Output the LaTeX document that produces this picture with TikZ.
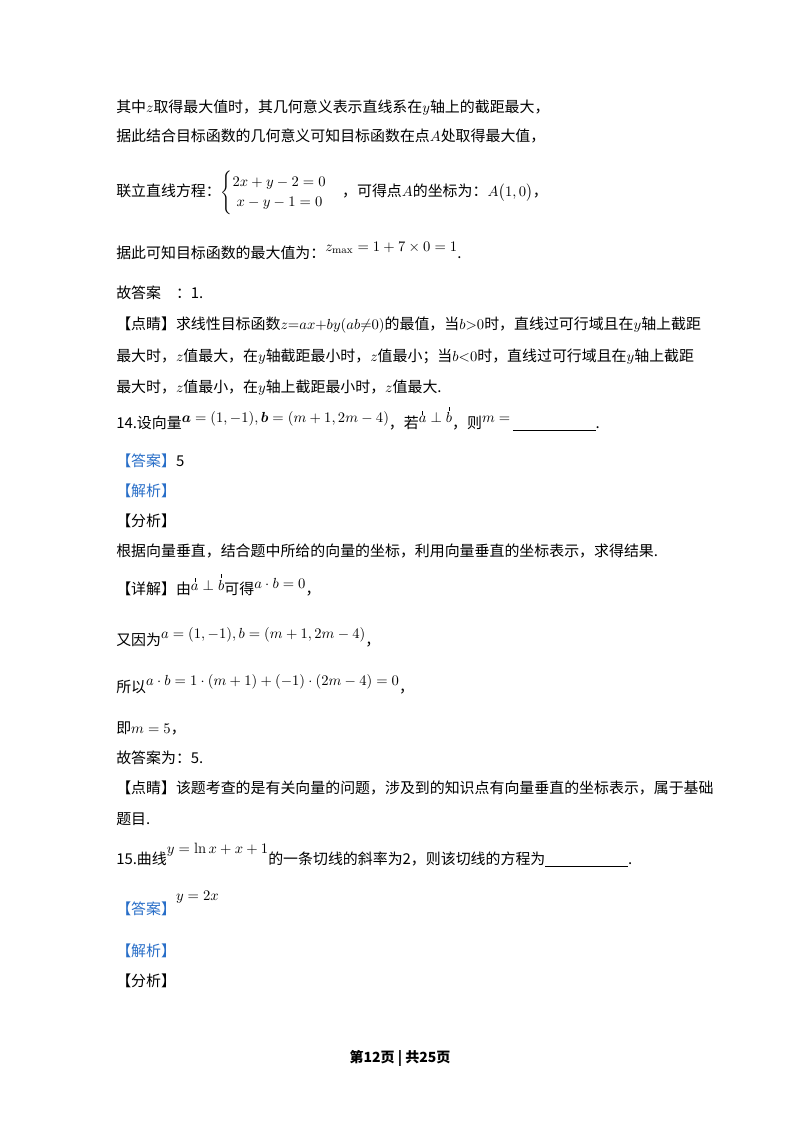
\documentclass[tikz,border=0pt]{standalone}
\usepackage{amsmath}
\usepackage{fontspec}
\newfontfamily\cjk{Noto Sans CJK SC}
\definecolor{hb}{RGB}{40,110,200}
\newcommand{\vtick}[1]{\overset{\raisebox{-1pt}{\rule{0.4pt}{3pt}}}{#1}}
\begin{document}
\begin{tikzpicture}[x=0.75pt,y=-0.75pt,
  t/.style={anchor=base west,inner sep=0pt,font=\cjk\fontsize{11.2pt}{13pt}\selectfont}]
\useasboundingbox (0,0) rectangle (800,1132);
\fill[white] (0,0) rectangle (800,1132);
\node[t] (l1) at (116,112) {其中$z$取得最大值时，其几何意义表示直线系在$y$轴上的截距最大，};
\node[t] (l2) at (116,141) {据此结合目标函数的几何意义可知目标函数在点$A$处取得最大值，};
\node[t] (l3) at (116,196) {联立直线方程：$\begin{cases}2x+y-2=0\\ \;x-y-1=0\end{cases}$，可得点$A$的坐标为：$A\big(1,0\big)$，};
\node[t] (l4) at (116,258) {据此可知目标函数的最大值为：\raisebox{5pt}{$z_{\max}=1+7\times0=1$}.};
\node[t] (l5) at (116,298) {故答案\quad ：1.};
\node[t] (l6) at (116,329) {【点睛】求线性目标函数$z{=}ax{+}by(ab{\neq}0)$的最值，当$b{>}0$时，直线过可行域且在$y$轴上截距};
\node[t] (l7) at (116,361) {最大时，$z$值最大，在$y$轴截距最小时，$z$值最小；当$b{<}0$时，直线过可行域且在$y$轴上截距};
\node[t] (l8) at (116,392) {最大时，$z$值最小，在$y$轴上截距最小时，$z$值最大.};
\node[t] (l9) at (116,428) {14.设向量\raisebox{4pt}{$\boldsymbol a=(1,-1),\boldsymbol b=(m+1,2m-4)$}，若\raisebox{4pt}{$\vtick{a}\perp\vtick{b}$}，则\raisebox{4pt}{$m=$}\,\underline{\hspace{62pt}}.};
\node[t,text=hb] (l10) at (116,466) {【答案】\textcolor{black}{5}};
\node[t,text=hb] (l11) at (116,496) {【解析】};
\node[t] (l12) at (116,526) {【分析】};
\node[t] (l13) at (116,556) {根据向量垂直，结合题中所给的向量的坐标，利用向量垂直的坐标表示，求得结果.};
\node[t] (l14) at (116,594) {【详解】由\raisebox{3pt}{$\vtick{a}\perp\vtick{b}$}可得\raisebox{4pt}{$a\cdot b=0$}，};
\node[t] (l15) at (116,645) {又因为\raisebox{5pt}{$a=(1,-1),b=(m+1,2m-4)$}，};
\node[t] (l16) at (116,692) {所以\raisebox{5pt}{$a\cdot b=1\cdot(m+1)+(-1)\cdot(2m-4)=0$}，};
\node[t] (l17) at (116,733) {即$m=5$，};
\node[t] (l18) at (116,763) {故答案为：5.};
\node[t] (l19) at (116,793) {【点睛】该题考查的是有关向量的问题，涉及到的知识点有向量垂直的坐标表示，属于基础};
\node[t] (l20) at (116,824) {题目.};
\node[t] (l21) at (116,864) {15.曲线\raisebox{8pt}{$y=\ln x+x+1$}的一条切线的斜率为2，则该切线的方程为\underline{\hspace{62pt}}.};
\node[t,text=hb] (l22) at (116,914) {【答案】\raisebox{10pt}{\textcolor{black}{$y=2x$}}};
\node[t,text=hb] (l23) at (116,956) {【解析】};
\node[t] (l24) at (116,986) {【分析】};
\node[anchor=base,inner sep=0pt,font=\cjk\bfseries\fontsize{10.5pt}{12pt}\selectfont] (ft) at (400,1062) {第12页 | 共25页};
\end{tikzpicture}
\end{document}
